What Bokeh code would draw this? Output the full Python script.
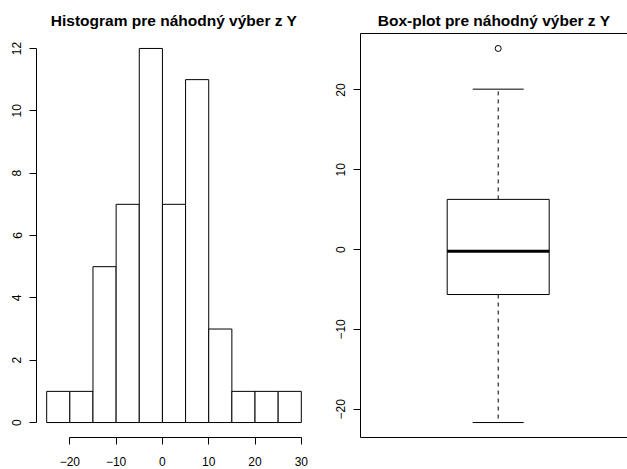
from bokeh.plotting import figure
from bokeh.layouts import row
from bokeh.models import LinearAxis, FixedTicker, Range1d
from bokeh.embed import file_html
from bokeh.resources import INLINE

FONT = "Liberation Sans"

# Histogram: bin edges and counts per bin
bin_edges = [-25, -20, -15, -10, -5, 0, 5, 10, 15, 20, 25, 30]
bin_counts = [1, 1, 5, 7, 12, 7, 11, 3, 1, 1, 1]
hist_x_ticks = [-20, -10, 0, 10, 20, 30]
hist_y_ticks = [0, 2, 4, 6, 8, 10, 12]

# Box-plot: whiskers, quartiles, median and outliers
box_lower_whisker = -21.67
box_q1 = -5.63
box_median = -0.2
box_q3 = 6.29
box_upper_whisker = 20.1
box_outliers = [25.2]
box_y_ticks = [-20, -10, 0, 10, 20]

hist_title = "Histogram pre náhodný výber z Y"
box_title = "Box-plot pre náhodný výber z Y"


def padded(lo, hi, frac=0.04):
    d = (hi - lo) * frac
    return lo - d, hi + d


def style_axis(ax, ticks, bounds=None, vertical=False, standoff=8):
    ax.ticker = FixedTicker(ticks=ticks)
    ax.minor_tick_line_color = None
    ax.major_tick_in = 0
    ax.major_tick_out = 7
    ax.axis_line_color = "black"
    ax.major_tick_line_color = "black"
    ax.major_label_text_font = FONT
    ax.major_label_text_font_size = "12px"
    ax.major_label_text_color = "black"
    ax.major_label_standoff = standoff
    if bounds is not None:
        ax.bounds = bounds
    if vertical:
        ax.major_label_orientation = "vertical"


def style_title(p, text, offset=0):
    p.title.text = text
    p.title.align = "center"
    p.title.offset = offset
    p.title.text_font = FONT
    p.title.text_font_size = "15.5px"
    p.title.text_font_style = "bold"
    p.title.text_color = "black"


# ---- histogram panel ----
hx0, hx1 = padded(bin_edges[0], bin_edges[-1])
hy0, hy1 = padded(0, max(bin_counts))
p1 = figure(width=320, height=469,
            x_range=Range1d(hx0, hx1), y_range=Range1d(hy0, hy1),
            output_backend="svg", toolbar_location=None,
            min_border_left=36, min_border_right=9,
            min_border_top=33, min_border_bottom=31)
p1.outline_line_color = None
p1.grid.visible = False
p1.background_fill_color = "white"
p1.border_fill_color = "white"
p1.quad(left=bin_edges[:-1], right=bin_edges[1:], bottom=0, top=bin_counts,
        fill_color="white", line_color="black", line_width=1)
style_axis(p1.xaxis[0], hist_x_ticks, bounds=(hist_x_ticks[0], hist_x_ticks[-1]), standoff=12)
style_axis(p1.yaxis[0], hist_y_ticks, bounds=(hist_y_ticks[0], hist_y_ticks[-1]), vertical=True)
style_title(p1, hist_title)

# ---- box-plot panel ----
all_vals = [box_lower_whisker, box_upper_whisker] + box_outliers
by0, by1 = padded(min(all_vals), max(all_vals))
center = 1.0
half_box = 0.2
half_cap = 0.1
box_px = 102          # on-screen width of the box, pixels
frame_w = 267
bx0 = 0.46
bx1 = bx0 + frame_w * (2 * half_box) / box_px
p2 = figure(width=307, height=469,
            x_range=Range1d(bx0, bx1),
            y_range=Range1d(by0, by1),
            output_backend="svg", toolbar_location=None,
            min_border_left=40, min_border_right=0,
            min_border_top=33, min_border_bottom=32)
p2.outline_line_color = None
p2.grid.visible = False
p2.background_fill_color = "white"
p2.border_fill_color = "white"

# whiskers
p2.segment(x0=[center, center], y0=[box_q3, box_q1],
           x1=[center, center], y1=[box_upper_whisker, box_lower_whisker],
           line_color="black", line_width=1, line_dash="4 4")
# caps
p2.segment(x0=[center - half_cap] * 2, y0=[box_upper_whisker, box_lower_whisker],
           x1=[center + half_cap] * 2, y1=[box_upper_whisker, box_lower_whisker],
           line_color="black", line_width=1)
# box
p2.quad(left=[center - half_box], right=[center + half_box],
        bottom=[box_q1], top=[box_q3],
        fill_color="white", line_color="black", line_width=1)
# median
p2.segment(x0=[center - half_box], y0=[box_median],
           x1=[center + half_box], y1=[box_median],
           line_color="black", line_width=3)
# outliers
p2.scatter(x=[center] * len(box_outliers), y=box_outliers, marker="circle",
           size=6, fill_color=None, line_color="black", line_width=1)

style_axis(p2.yaxis[0], box_y_ticks, vertical=True)
xa = p2.xaxis[0]
xa.ticker = FixedTicker(ticks=[])
xa.minor_tick_line_color = None
xa.major_tick_line_color = None
xa.major_label_text_font_size = "0px"
xa.axis_line_color = "black"
top_axis = LinearAxis(ticker=FixedTicker(ticks=[]), minor_tick_line_color=None,
                      major_tick_line_color=None, major_label_text_font_size="0px",
                      axis_line_color="black")
p2.add_layout(top_axis, "above")
style_title(p2, box_title, offset=4.5)

layout = row(p1, p2)
open("out.html", "w").write(file_html(layout, INLINE))
